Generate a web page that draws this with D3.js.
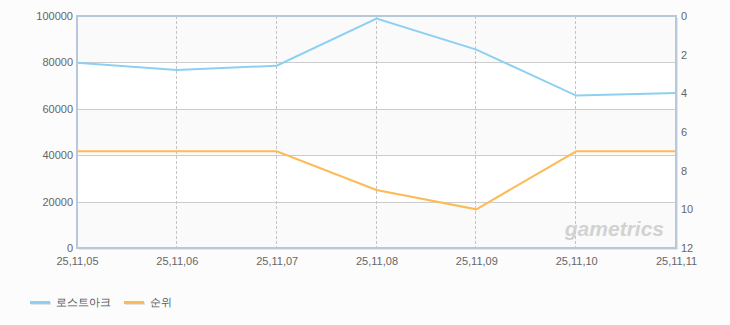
<!DOCTYPE html>
<html>
<head>
<meta charset="utf-8">
<script src="https://cdn.jsdelivr.net/npm/d3@7"></script>
<style>
  body { margin: 0; background: #fcfcfc; }
  text { font-family: "Liberation Sans", Arial, sans-serif; }
</style>
</head>
<body>
<div id="chart"></div>
<script>
// dates on the x axis
var dates = ["25,11,05", "25,11,06", "25,11,07", "25,11,08", "25,11,09", "25,11,10", "25,11,11"];
// players (left axis)
var players = [79900, 76700, 78600, 98900, 85500, 65700, 66800];
// rank (right axis, reversed)
var ranks = [7, 7, 7, 9, 10, 7, 7];
var leftTicks = [0, 20000, 40000, 60000, 80000, 100000];
var rightTicks = [0, 2, 4, 6, 8, 10, 12];

var svgWidth = 730, svgHeight = 325;
var margin = { top: 16, left: 77, right: 54, bottom: 77 };
var chartWidth = svgWidth - margin.left - margin.right;
var chartHeight = svgHeight - margin.top - margin.bottom;

var svg = d3.select("#chart").append("svg")
    .attr("width", svgWidth)
    .attr("height", svgHeight);

var g = svg.append("g")
    .attr("transform", `translate(${margin.left}, ${margin.top})`);

var x = d3.scalePoint().domain(dates).range([0, chartWidth]);
var yLeft = d3.scaleLinear().domain([0, 100000]).range([chartHeight, 0]);
var yRight = d3.scaleLinear().domain([0, 12]).range([0, chartHeight]);

// shadow + plot background
g.append("rect")
    .attr("x", 2).attr("y", 2)
    .attr("width", chartWidth).attr("height", chartHeight)
    .attr("fill", "#e4e6ea");
g.append("rect")
    .attr("width", chartWidth).attr("height", chartHeight)
    .attr("fill", "#ffffff");

// alternating bands
for (var i = 0; i < leftTicks.length - 1; i += 2) {
    g.append("rect")
        .attr("x", 0)
        .attr("y", yLeft(leftTicks[i + 1]))
        .attr("width", chartWidth)
        .attr("height", yLeft(leftTicks[i]) - yLeft(leftTicks[i + 1]))
        .attr("fill", "#fafafa");
}

// horizontal grid
g.selectAll(".hgrid")
    .data(leftTicks.slice(1, -1))
    .enter().append("line")
    .attr("x1", 0).attr("x2", chartWidth)
    .attr("y1", d => Math.round(yLeft(d)) + 0.5)
    .attr("y2", d => Math.round(yLeft(d)) + 0.5)
    .attr("stroke", "#cccccc");

// vertical dashed grid
g.selectAll(".vgrid")
    .data(dates.slice(1, -1))
    .enter().append("line")
    .attr("x1", d => Math.round(x(d)) - 0.5)
    .attr("x2", d => Math.round(x(d)) - 0.5)
    .attr("y1", 0).attr("y2", chartHeight)
    .attr("stroke", "#c4c4c4")
    .attr("stroke-dasharray", "3,2");

// watermark
g.append("text")
    .attr("x", chartWidth - 12)
    .attr("y", chartHeight - 12)
    .attr("text-anchor", "end")
    .attr("font-size", "21px")
    .attr("font-weight", "bold")
    .attr("font-style", "italic")
    .attr("fill", "#d2d2d2")
    .text("gametrics");

// lines
var bluLine = d3.line().x((d, i) => x(dates[i])).y(d => yLeft(d));
var rankLine = d3.line().x((d, i) => x(dates[i])).y(d => yRight(d));

g.append("path")
    .datum(players)
    .attr("d", bluLine)
    .attr("fill", "none")
    .attr("stroke", "#8ed0f2")
    .attr("stroke-width", 2);

g.append("path")
    .datum(ranks)
    .attr("d", rankLine)
    .attr("fill", "none")
    .attr("stroke", "#fdbb57")
    .attr("stroke-width", 2);

// frame
g.append("rect")
    .attr("width", chartWidth).attr("height", chartHeight)
    .attr("fill", "none")
    .attr("stroke", "#b7c8da")
    .attr("stroke-width", 2);

// axes
var leftAxis = d3.axisLeft(yLeft).tickValues(leftTicks).tickFormat(d3.format("d")).tickSize(0).tickPadding(4);
var rightAxis = d3.axisRight(yRight).tickValues(rightTicks).tickSize(0).tickPadding(5);
var bottomAxis = d3.axisBottom(x).tickSize(0).tickPadding(9);

function styleAxis(sel) {
    sel.select(".domain").remove();
    sel.selectAll("text").attr("fill", "#666").attr("font-size", "11px");
}

g.append("g").call(leftAxis).call(styleAxis);
g.append("g").attr("transform", `translate(${chartWidth}, 0)`).call(rightAxis).call(styleAxis);
g.append("g").attr("transform", `translate(0, ${chartHeight})`).call(bottomAxis).call(styleAxis);

// legend
var legendItems = [
    { name: "로스트아크", color: "#8ed0f2", x: 30 },
    { name: "순위", color: "#fdbb57", x: 124 }
];
var legend = svg.selectAll(".legend")
    .data(legendItems)
    .enter().append("g")
    .attr("transform", d => `translate(${d.x}, 302)`);
legend.append("rect")
    .attr("x", 1).attr("y", 0).attr("width", 20).attr("height", 3)
    .attr("fill", "#e2e2e2");
legend.append("rect")
    .attr("x", 0).attr("y", -1).attr("width", 20).attr("height", 3)
    .attr("fill", d => d.color);
legend.append("text")
    .attr("x", 26).attr("y", 4)
    .attr("font-size", "11px")
    .attr("fill", "#555")
    .text(d => d.name);
</script>
</body>
</html>
